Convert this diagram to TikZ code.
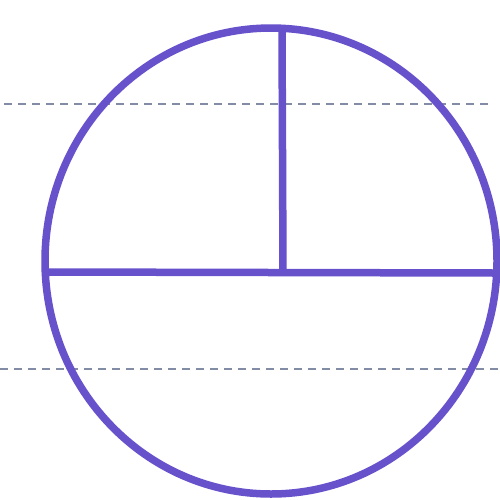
\documentclass[tikz,border=0pt]{standalone}
\definecolor{pen}{RGB}{104,82,204}
\definecolor{guide}{RGB}{130,140,165}
\begin{document}
\begin{tikzpicture}[x=1pt,y=-1pt,
  penline/.style={draw=pen,line width=7.5pt,line cap=round},
  guideline/.style={draw=guide,line width=1.6pt,dash pattern=on 8pt off 6pt}]
\useasboundingbox (0,0) rectangle (500,499);
\fill[white] (0,0) rectangle (500,499);
\coordinate (gl1) at (4,104);
\coordinate (gr1) at (492,104);
\coordinate (gl2) at (0,369);
\coordinate (gr2) at (498,369);
\draw[guideline] (gl1) -- (gr1);
\draw[guideline] (gl2) -- (gr2);
\coordinate (c) at (271,261);
\draw[penline] (c) ellipse [x radius=226, y radius=233];
\coordinate (hl) at (48,272);
\coordinate (hr) at (496,273);
\coordinate (vt) at (282,29);
\coordinate (vb) at (283,272);
\draw[penline] (hl) -- (hr);
\draw[penline] (vt) -- (vb);
\end{tikzpicture}
\end{document}
